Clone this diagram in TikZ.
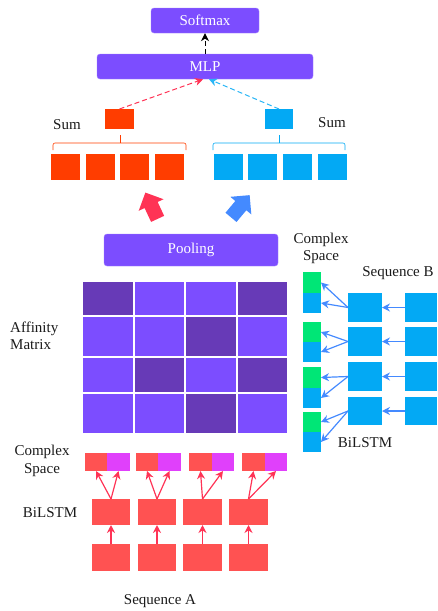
\documentclass[tikz,border=0pt]{standalone}
\usepackage{fontspec}
\setmainfont{Liberation Serif}
\usetikzlibrary{arrows.meta,shapes.arrows}
\definecolor{purp}{HTML}{7C4DFF}
\definecolor{dpurp}{HTML}{673AB7}
\definecolor{sumred}{HTML}{FF3D00}
\definecolor{lblue}{HTML}{03A9F4}
\definecolor{arblue}{HTML}{448AFF}
\definecolor{pinkred}{HTML}{FF3355}
\definecolor{boxred}{HTML}{FF5252}
\definecolor{magen}{HTML}{E040FB}
\definecolor{grn}{HTML}{00E676}
\definecolor{dashblue}{HTML}{29B6F6}
\definecolor{txt}{HTML}{1A1A1A}
\begin{document}
\begin{tikzpicture}[x=1pt,y=-1pt,
  every node/.style={font=\fontsize{15}{17.5}\selectfont, text=txt},
  pbox/.style={rectangle, rounded corners=3pt, fill=purp, draw=purp!70!white, line width=0.4pt, text=white, inner sep=0pt},
  cell/.style={rectangle, inner sep=0pt, outer sep=0pt, draw=none},
  lbl/.style={align=center, inner sep=0pt},
  redarr/.style={pinkred, line width=1.2pt, -{Stealth[length=8pt,width=8pt]}},
  bluearr/.style={arblue, line width=1.2pt, -{Stealth[length=8pt,width=8pt]}},
  dasharr/.style={dashed, dash pattern=on 5pt off 3pt, line width=1pt, -{Stealth[length=8pt,width=8pt]}},
  bigarrow/.style={single arrow, inner xsep=0pt, inner ysep=7pt, minimum height=29pt, minimum width=27pt, single arrow head extend=6.5pt, font=\tiny}
]
\useasboundingbox (0,0) rectangle (437,611);

% top boxes
\node[pbox, minimum width=108, minimum height=25] (softmax) at (205,20.5) {Softmax};
\node[pbox, minimum width=216, minimum height=25] (mlp) at (205,66.5) {MLP};
\draw[dasharr, black] (mlp.north) -- (softmax.south);

% sum boxes
\node[cell, fill=sumred, minimum width=29, minimum height=20] (sumR) at (119.5,119) {};
\node[cell, fill=lblue, minimum width=28, minimum height=20] (sumB) at (279,119) {};
\draw[dasharr, pinkred] (sumR.north) -- ([xshift=-2pt]mlp.south);
\draw[dasharr, dashblue] (sumB.north) -- ([xshift=4pt]mlp.south);
\node[lbl] (sumlblR) at (67,125) {Sum};
\node[lbl] (sumlblB) at (332,123) {Sum};

% braces
\draw[sumred, line width=0.6pt, rounded corners=2pt] (53,150) -- (53,143) -- (186,143) -- (186,150);
\draw[sumred, line width=0.6pt] (120,143) -- (120,135);
\draw[lblue, line width=0.6pt, rounded corners=2pt] (213,150) -- (213,143) -- (345,143) -- (345,150);
\draw[lblue, line width=0.6pt] (279,143) -- (279,135);

% rows of squares
\foreach \i/\x in {1/65.5,2/100,3/134.5,4/169.5}
  \node[cell, fill=sumred, minimum width=29, minimum height=26] (rs\i) at (\x,167) {};
\foreach \i/\x in {1/228.5,2/262.5,3/297.5,4/332.5}
  \node[cell, fill=lblue, minimum width=29, minimum height=26] (bs\i) at (\x,167) {};

% big arrows
\node[bigarrow, fill=pinkred, rotate=115] (bigR) at (153,209) {};
\node[bigarrow, fill=arblue, rotate=50] (bigB) at (238,209) {};

% pooling
\node[pbox, minimum width=174, minimum height=32] (pool) at (191,250) {Pooling};

% affinity matrix
\foreach \r/\yc/\h/\pat in {1/298.5/33/{1,0,0,1}, 2/336.5/39/{0,0,1,0}, 3/375/34/{0,1,0,1}, 4/413.5/39/{0,0,1,0}} {
  \foreach \d [count=\c] in \pat {
    \pgfmathsetmacro{\xc}{{108,159.5,211,262.5}[\c-1]}
    \pgfmathsetmacro{\w}{{50,49,50,49}[\c-1]}
    \ifnum\d=1 \def\cc{dpurp}\else\def\cc{purp}\fi
    \node[cell, fill=\cc, minimum width=\w, minimum height=\h] (m\r\c) at (\xc,\yc) {};
  }
}
\node[lbl, align=left, anchor=west] (afflbl) at (10,336) {Affinity\\Matrix};

% sequence B side
\node[lbl] (csB) at (321,248.5) {Complex\\Space};
\node[lbl] (seqB) at (398,273) {Sequence B};
\node[lbl] (bilB) at (365,443) {BiLSTM};
\foreach \i/\gy/\by/\ly/\lh in {1/282.5/303/307.5/29, 2/332/352/341.5/29, 3/377.5/398/376.5/29, 4/422/442/411/28} {
  \node[cell, fill=grn, minimum width=18, minimum height=20.5] (gB\i) at (312,\gy) {};
  \node[cell, fill=lblue, minimum width=18, minimum height=20] (cB\i) at (312,\by) {};
  \node[cell, fill=lblue, minimum width=34, minimum height=\lh] (lB\i) at (365,\ly) {};
  \node[cell, fill=lblue, minimum width=32, minimum height=\lh] (iB\i) at (421,\ly) {};
  \draw[bluearr] (iB\i.west) -- (lB\i.east);
  \draw[bluearr] (lB\i.west) -- (gB\i.east);
  \draw[bluearr] (lB\i.west) -- (cB\i.east);
}

% sequence A side
\node[lbl] (csA) at (42,461) {Complex\\Space};
\node[lbl] (bilA) at (50,513) {BiLSTM};
\node[lbl] (seqA) at (160,601) {Sequence A};
\foreach \i/\rx/\mx/\bx/\bw in {1/96/118.5/111/38, 2/147/169.5/157/38, 3/200.5/223/202.5/39, 4/253.5/276/248.5/39} {
  \node[cell, fill=boxred, minimum width=22.5, minimum height=18] (rA\i) at (\rx,462) {};
  \node[cell, fill=magen, minimum width=22.5, minimum height=18] (mA\i) at (\mx,462) {};
  \node[cell, fill=boxred, minimum width=\bw, minimum height=26] (lA\i) at (\bx,512) {};
  \node[cell, fill=boxred, minimum width=\bw, minimum height=27] (iA\i) at (\bx,557.5) {};
  \draw[redarr] (iA\i.north) -- (lA\i.south);
  \draw[redarr] (lA\i.north) -- (rA\i.south);
  \draw[redarr] (lA\i.north) -- (mA\i.south);
}
\end{tikzpicture}
\end{document}
